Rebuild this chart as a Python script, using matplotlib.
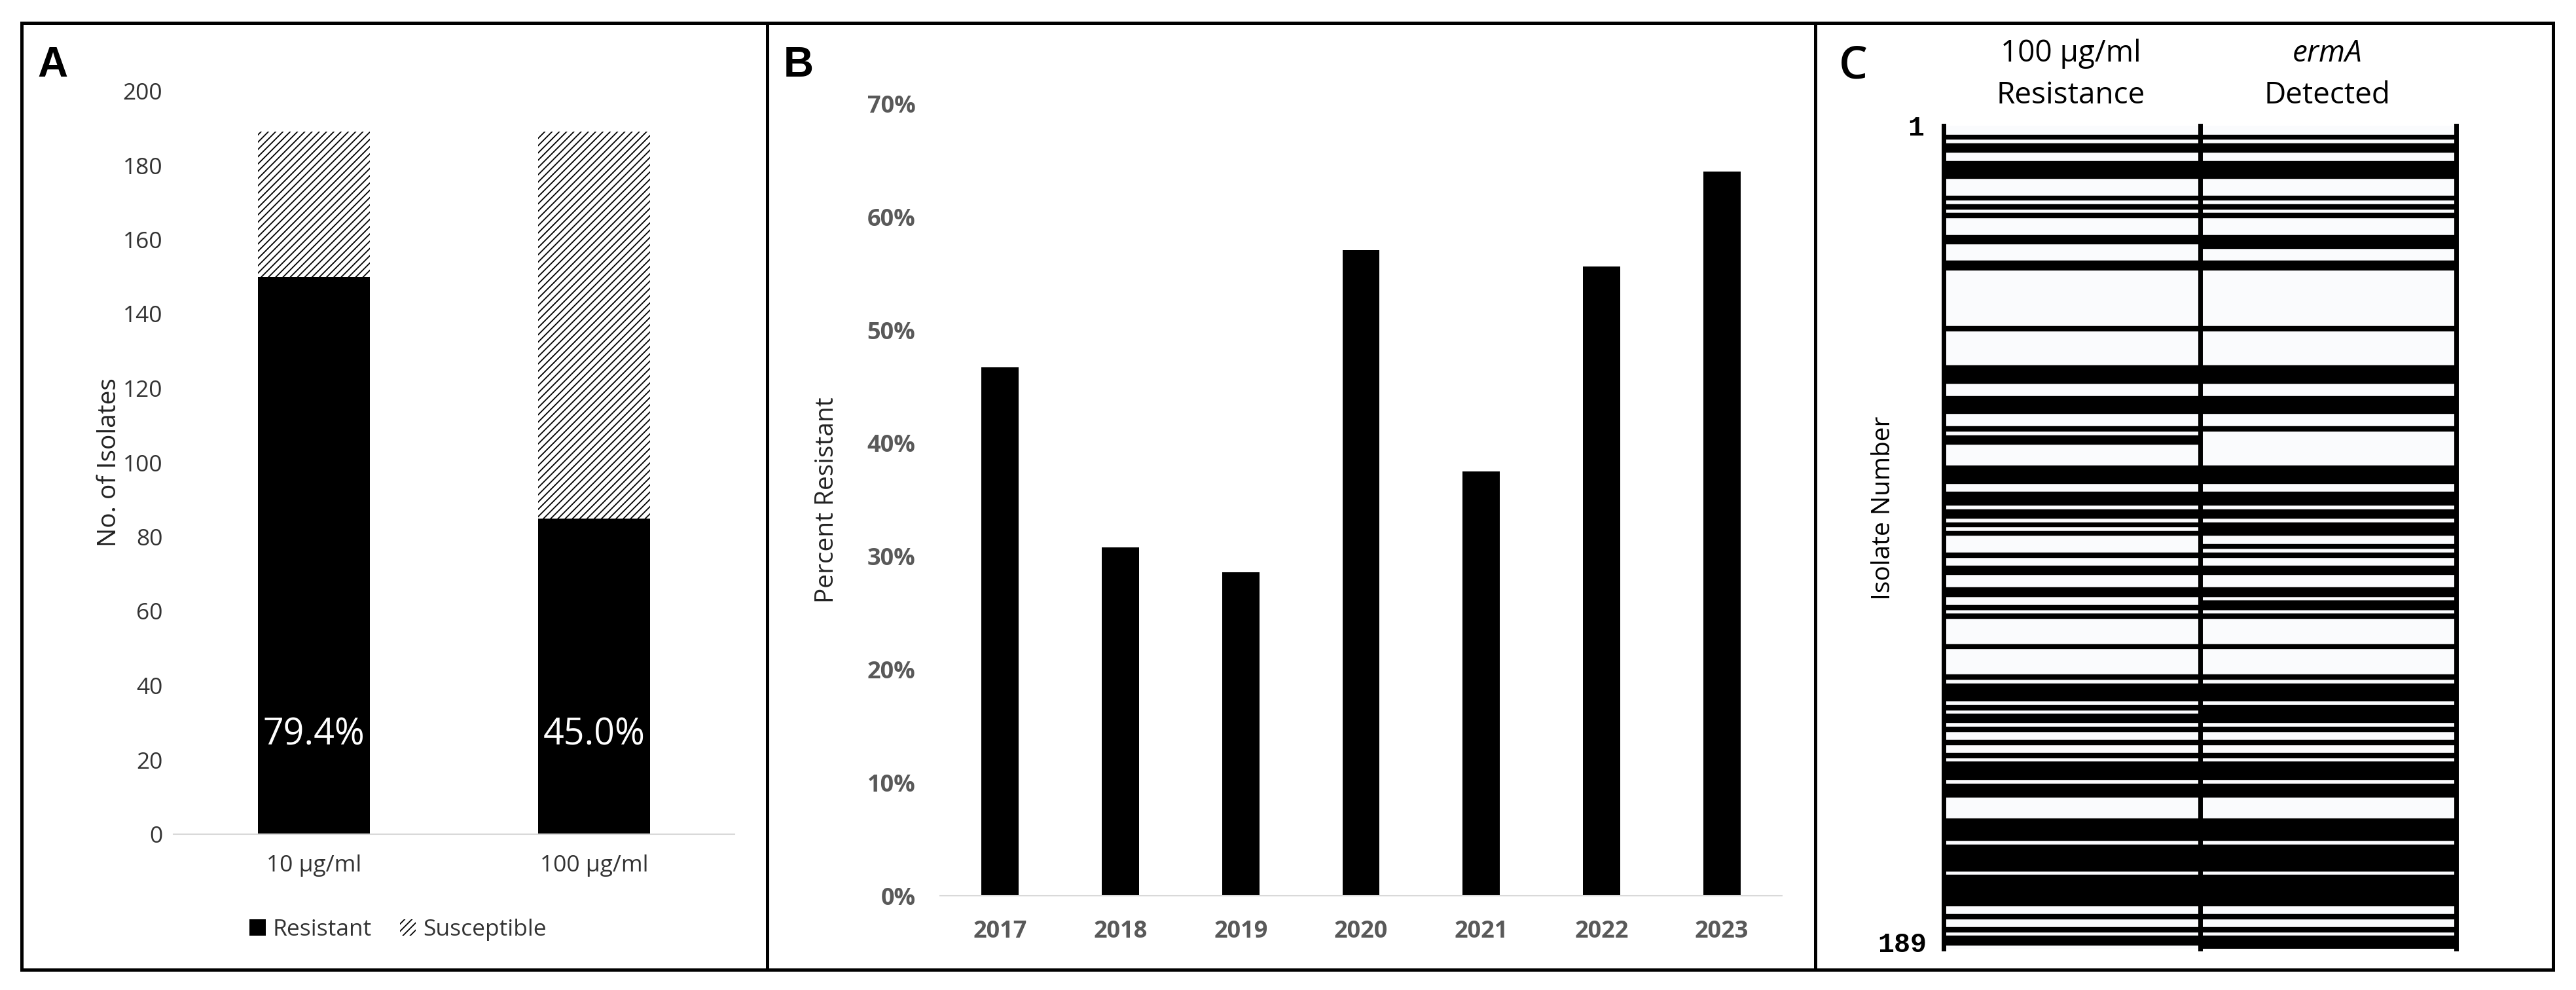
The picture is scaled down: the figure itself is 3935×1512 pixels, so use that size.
import numpy as np
import matplotlib
matplotlib.use('Agg')
import matplotlib.pyplot as plt
from matplotlib.patches import Rectangle, Patch
from matplotlib.ticker import PercentFormatter

W, H = 3935, 1512

# panel A
conc_labels = ['10 µg/ml', '100 µg/ml']
resistant = [150, 85]
susceptible = [39, 104]
resistant_pct = ['79.4%', '45.0%']

# panel B
years = ['2017', '2018', '2019', '2020', '2021', '2022', '2023']
pct_resistant = [0.467, 0.308, 0.286, 0.571, 0.375, 0.556, 0.640]

# panel C, isolates 1..189 in blocks of ten, 1 = black cell
resistance_100 = [
    '0010110011', '1100001010', '1000011000', '0110000000', '0000001000',
    '0000011110', '0011110001', '0110000011', '1100111011', '0101000010',
    '0110001100', '1010000001', '0000001011', '1101011010', '0100101111',
    '0111000001', '1111011111', '1011111110', '010010110',
]
erma_detected = [
    '0010110011', '1100001010', '1000011100', '0110000000', '0000001000',
    '0000011110', '0011110001', '0000000011', '1100111011', '0111001010',
    '0110001101', '1010000001', '0000001011', '1101111010', '0100101111',
    '0111000001', '1111011111', '1011111110', '010010111',
]
column_titles = [('100 µg/ml', 'Resistance'), ('ermA', 'Detected')]

plt.rcParams['font.family'] = ['Open Sans', 'DejaVu Sans']
plt.rcParams['hatch.linewidth'] = 1.3


def fx(px):
    return px / W


def fy(py):
    return 1 - py / H


def axes_px(fig, left, top, right, bottom):
    return fig.add_axes([fx(left), fy(bottom), (right - left) / W, (bottom - top) / H])


fig = plt.figure(figsize=(W / 100, H / 100), dpi=100)

# panel frames
for x0, x1 in [(33, 1172), (1172, 2773), (2773, 3900)]:
    fig.add_artist(Rectangle((fx(x0), fy(1481)), (x1 - x0) / W, (1481 - 35) / H,
                             fill=False, lw=3.6, ec='black', transform=fig.transFigure))

# ---- A ----
axA = axes_px(fig, 265, 139, 1122, 1274)
xa = np.arange(len(conc_labels))
axA.bar(xa, resistant, width=0.4, color='black', label='Resistant')
axA.bar(xa, susceptible, width=0.4, bottom=resistant, color='white', edgecolor='black',
        hatch='///', lw=0, label='Susceptible')
for i, t in enumerate(resistant_pct):
    axA.text(xa[i], 26.6, t, color='white', ha='center', va='center', fontsize=40)
axA.set_xlim(-0.5, 1.5)
axA.set_ylim(0, 200)
axA.set_yticks(np.arange(0, 201, 20))
axA.set_xticks(xa, conc_labels)
for s in ['top', 'right', 'left']:
    axA.spines[s].set_visible(False)
axA.spines['bottom'].set_color('#d9d9d9')
axA.spines['bottom'].set_linewidth(1.5)
axA.tick_params(length=0, labelsize=25.5, colors='#333333')
axA.tick_params(axis='y', pad=12)
axA.tick_params(axis='x', pad=22)
axA.set_ylabel('No. of Isolates', fontsize=28, color='#222222')
axA.yaxis.set_label_coords((186 - 265) / 857, 0.5)

handles = [Patch(facecolor='black', label='Resistant'),
           Patch(facecolor='white', edgecolor='black', hatch='///', lw=0, label='Susceptible')]
fig.legend(handles=handles, loc='center', bbox_to_anchor=(fx(608), fy(1420)), ncol=2,
           frameon=False, fontsize=25.5, handlelength=0.7, handleheight=0.7,
           handletextpad=0.3, columnspacing=1.2, labelcolor='#333333')

# ---- B ----
axB = axes_px(fig, 1436, 158.7, 2722, 1368)
axB.bar(years, pct_resistant, width=0.31, color='black')
axB.set_ylim(0, 0.7)
axB.set_xlim(-0.5, len(years) - 0.5)
axB.set_yticks(np.arange(0, 0.71, 0.1))
axB.yaxis.set_major_formatter(PercentFormatter(1.0, decimals=0))
for s in ['top', 'right', 'left']:
    axB.spines[s].set_visible(False)
axB.spines['bottom'].set_color('#d9d9d9')
axB.spines['bottom'].set_linewidth(1.5)
axB.tick_params(length=0, labelsize=26, colors='#595959')
axB.tick_params(axis='y', pad=27)
axB.tick_params(axis='x', pad=27)
for lab in axB.get_xticklabels() + axB.get_yticklabels():
    lab.set_fontweight('bold')
axB.set_ylabel('Percent Resistant', fontsize=28, color='#222222')
axB.yaxis.set_label_coords((1282 - 1436) / 1286, 0.5)

# ---- C ----
axC = axes_px(fig, 2969, 192.3, 3752, 1449.3)
axC.set_facecolor('#fafbfd')
rows = np.arange(189)
for col, blocks in enumerate([resistance_100, erma_detected]):
    vals = np.array([int(c) for c in ''.join(blocks)])
    axC.barh(rows[vals == 1], 1, left=col, height=1, align='edge',
             color='black', ec='black', lw=1)
axC.set_xlim(0, 2)
axC.set_ylim(189, 0)
for xv in [0, 1, 2]:
    axC.axvline(xv, color='black', lw=5, clip_on=False)
for s in axC.spines.values():
    s.set_visible(False)
axC.set_xticks([])
axC.set_yticks([])
for col, (l1, l2) in enumerate(column_titles):
    xc = fx(3163 + col * 392)
    fig.text(xc, fy(82), l1, ha='center', va='center', fontsize=33,
             style='italic' if col == 1 else 'normal')
    fig.text(xc, fy(146), l2, ha='center', va='center', fontsize=33)
mono = ['Liberation Mono', 'DejaVu Sans Mono']
axC.text(-0.075, 0.5, '1', ha='right', va='center', family=mono, weight='bold', fontsize=30)
axC.text(-0.066, 188, '189', ha='right', va='center', family=mono, weight='bold', fontsize=30)
fig.text(fx(2877), fy(776), 'Isolate Number', rotation=90, ha='center', va='center', fontsize=28)

# panel letters
fig.text(fx(80), fy(100), 'A', weight='bold', family='Liberation Sans', fontsize=46,
         ha='center', va='center')
fig.text(fx(1220), fy(100), 'B', weight='bold', family='Liberation Sans', fontsize=46,
         ha='center', va='center')
fig.text(fx(2831), fy(102), 'C', fontsize=50, weight='semibold', ha='center', va='center')

fig.savefig('out.png', dpi=100)
